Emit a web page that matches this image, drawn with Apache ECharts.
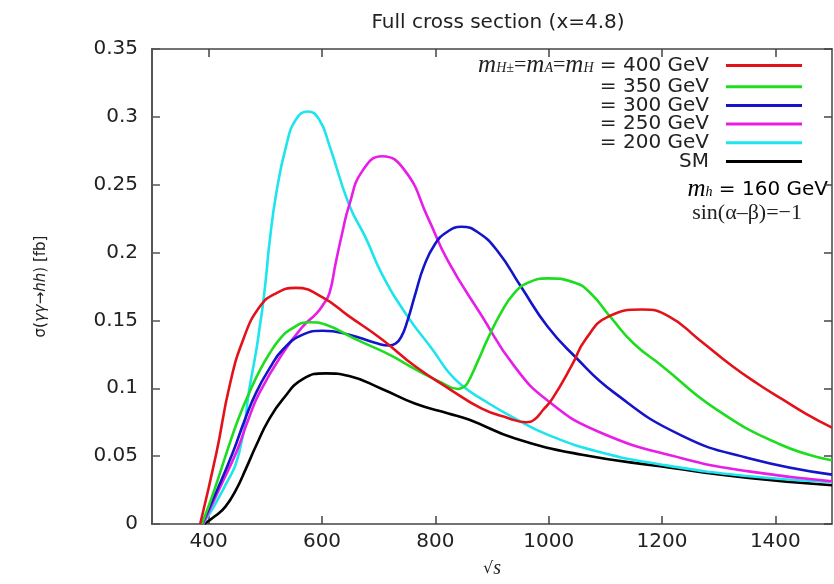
<!DOCTYPE html>
<html>
<head>
<meta charset="utf-8">
<script src="https://cdn.jsdelivr.net/npm/echarts@6/dist/echarts.min.js"></script>
<style>
  html, body { margin: 0; padding: 0; background: #fff; }
  #chart { width: 834px; height: 584px; }
</style>
</head>
<body>
<div id="chart"></div>
<script>
// sqrt(s) [GeV] vs sigma(gamma gamma -> hh) [fb]
var m400 = [[385,0],[414,0.053],[437,0.102],[461,0.136],[490,0.160],[519,0.170],[554,0.174],[601,0.167],[648,0.153],[706,0.136],[765,0.116],[823,0.100],[882,0.085],[929,0.078],[960,0.075],[975,0.077],[990,0.084],[1006,0.092],[1041,0.117],[1065,0.136],[1106,0.153],[1165,0.158],[1212,0.153],[1265,0.136],[1325,0.116],[1370,0.103],[1412,0.092],[1455,0.081],[1500,0.071]];
var m350 = [[388,0],[410,0.025],[432,0.053],[452,0.077],[472,0.097],[490,0.113],[508,0.126],[525,0.136],[543,0.143],[578,0.1487],[607,0.1468],[660,0.136],[718,0.125],[765,0.114],[812,0.104],[840,0.0995],[850,0.101],[857,0.104],[875,0.120],[892,0.136],[915,0.155],[939,0.170],[965,0.178],[998,0.181],[1045,0.178],[1074,0.170],[1110,0.152],[1150,0.133],[1200,0.1165],[1294,0.085],[1412,0.058],[1500,0.047]];
var m300 = [[388,0],[415,0.025],[443,0.053],[464,0.077],[484,0.097],[508,0.115],[531,0.1286],[566,0.1395],[601,0.1424],[648,0.1395],[695,0.1334],[718,0.1315],[730,0.133],[740,0.138],[751,0.150],[765,0.170],[780,0.190],[799,0.206],[820,0.215],[846,0.219],[875,0.215],[910,0.201],[951,0.175],[998,0.1455],[1045,0.124],[1115,0.097],[1233,0.0655],[1353,0.0485],[1500,0.0364]];
var m250 = [[390,0],[420,0.027],[449,0.053],[470,0.077],[490,0.097],[531,0.126],[566,0.1455],[590,0.155],[601,0.161],[613,0.170],[624,0.192],[636,0.215],[648,0.235],[671,0.260],[706,0.271],[747,0.260],[787,0.2256],[822,0.194],[881,0.154],[939,0.1165],[998,0.091],[1088,0.068],[1235,0.0485],[1353,0.0388],[1500,0.0315]];
var m200 = [[390,0],[425,0.025],[454,0.053],[472,0.100],[484,0.128],[490,0.145],[496,0.1625],[502,0.185],[507,0.206],[519,0.243],[537,0.279],[554,0.298],[575,0.304],[595,0.298],[613,0.279],[648,0.235],[677,0.211],[706,0.184],[751,0.153],[795,0.1286],[823,0.112],[847,0.102],[882,0.092],[941,0.0776],[1000,0.0655],[1088,0.0533],[1200,0.0437],[1353,0.0352],[1500,0.031]];
var sm = [[392,0],[412,0.006],[430,0.013],[448,0.025],[466,0.041],[484,0.058],[505,0.076],[531,0.092],[566,0.1067],[607,0.111],[648,0.109],[706,0.0995],[765,0.0886],[823,0.0815],[859,0.077],[941,0.063],[1059,0.051],[1200,0.0424],[1353,0.034],[1500,0.0286]];

var seriesNames = ['400 GeV', '350 GeV', '300 GeV', '250 GeV', '200 GeV', 'SM'];
var seriesData = [m400, m350, m300, m250, m200, sm];
var seriesColors = ['#e3121a', '#1edc1e', '#1414c8', '#e81ee8', '#1ee4ee', '#000000'];
var xTicks = [400, 600, 800, 1000, 1200, 1400];

var sans = 'DejaVu Sans';
var serif = 'Liberation Serif';

var myChart = echarts.init(document.getElementById('chart'));

var series = [];
for (var i = 0; i < seriesNames.length; i++) {
  series.push({
    name: seriesNames[i],
    type: 'line',
    data: seriesData[i],
    showSymbol: false,
    smooth: 0.5,
    lineStyle: { width: 2.6, color: seriesColors[i] },
    itemStyle: { color: seriesColors[i] },
    z: 10 - i
  });
}

var legendRich = {
  m: { fontFamily: serif, fontStyle: 'italic', fontSize: 25, lineHeight: 19, color: '#222' },
  s: { fontFamily: serif, fontStyle: 'italic', fontSize: 14, lineHeight: 10, verticalAlign: 'bottom', color: '#222' },
  q: { fontFamily: serif, fontSize: 22, lineHeight: 19, color: '#222' },
  t: { fontFamily: sans, fontSize: 20, lineHeight: 19, color: '#222' }
};

var option = {
  animation: false,
  title: {
    text: 'Full cross section (x=4.8)',
    left: 493,
    textAlign: 'center',
    top: 8,
    textStyle: { fontFamily: sans, fontSize: 20, fontWeight: 'normal', color: '#222' }
  },
  grid: { left: 152, right: 2, top: 49, bottom: 54 },
  legend: {
    orient: 'vertical',
    align: 'right',
    right: 32,
    top: 53,
    padding: 0,
    itemGap: -1.3,
    itemWidth: 76,
    itemHeight: 3,
    icon: 'rect',
    data: seriesNames,
    formatter: function (name) {
      if (name === '400 GeV') {
        return '{m|m}{s|H±}{q|=}{m|m}{s|A}{q|=}{m|m}{s|H}{t| = 400 GeV}';
      }
      if (name === 'SM') return '{t|SM}';
      return '{t|= ' + name + '}';
    },
    textStyle: { fontFamily: sans, fontSize: 20, lineHeight: 19, color: '#222', padding: [0, 12, 0, 0], rich: legendRich }
  },
  graphic: [
    {
      type: 'text',
      right: 6,
      top: 177,
      style: {
        text: '{m|m}{s|h}{t| = 160 GeV}',
        rich: legendRich
      }
    },
    {
      type: 'text',
      right: 32,
      top: 202,
      style: {
        text: 'sin(α–β)=−1',
        fontFamily: serif,
        fontSize: 22,
        fill: '#222'
      }
    }
  ],
  xAxis: [
    {
      type: 'value',
      min: 300,
      max: 1500,
      name: '{r|√}{s|s}',
      nameLocation: 'middle',
      nameGap: 35,
      nameTextStyle: {
        rich: {
          r: { fontFamily: sans, fontSize: 16, color: '#222' },
          s: { fontFamily: serif, fontStyle: 'italic', fontSize: 20, color: '#222' }
        }
      },
      splitLine: { show: false },
      axisLine: { onZero: false, lineStyle: { color: '#444', width: 1.5 } },
      axisTick: { inside: true, length: 8, customValues: xTicks, lineStyle: { color: '#444', width: 1.5 } },
      axisLabel: {
        customValues: xTicks,
        margin: 8,
        fontFamily: sans,
        fontSize: 20,
        color: '#222',
        formatter: function (v) { return String(v); }
      }
    },
    {
      type: 'value',
      position: 'top',
      min: 300,
      max: 1500,
      splitLine: { show: false },
      axisLine: { onZero: false, lineStyle: { color: '#444', width: 1.5 } },
      axisTick: { inside: true, length: 8, customValues: xTicks, lineStyle: { color: '#444', width: 1.5 } },
      axisLabel: { show: false }
    }
  ],
  yAxis: [
    {
      type: 'value',
      min: 0,
      max: 0.35,
      interval: 0.05,
      name: '{t|σ(}{i|γγ}{t|→}{i|hh}{t|) [fb]}',
      nameLocation: 'middle',
      nameRotate: 90,
      nameGap: 103,
      nameTextStyle: {
        rich: {
          t: { fontFamily: sans, fontSize: 15, color: '#222' },
          i: { fontFamily: sans, fontStyle: 'italic', fontSize: 15, color: '#222' }
        }
      },
      splitLine: { show: false },
      axisLine: { onZero: false, lineStyle: { color: '#555', width: 2 } },
      axisTick: { inside: true, length: 8, lineStyle: { color: '#555', width: 1.5 } },
      axisLabel: { margin: 14, fontFamily: sans, fontSize: 20, color: '#222' }
    },
    {
      type: 'value',
      position: 'right',
      min: 0,
      max: 0.35,
      interval: 0.05,
      splitLine: { show: false },
      axisLine: { onZero: false, lineStyle: { color: '#444', width: 1.5 } },
      axisTick: { inside: true, length: 8, lineStyle: { color: '#444', width: 1.5 } },
      axisLabel: { show: false }
    }
  ],
  series: series
};

myChart.setOption(option);
</script>
</body>
</html>
